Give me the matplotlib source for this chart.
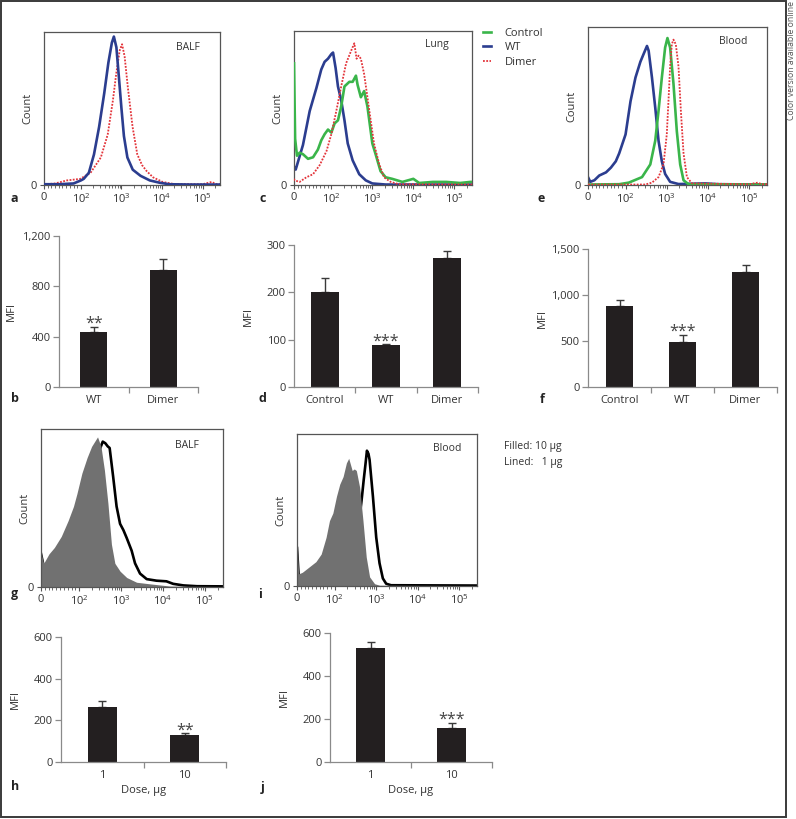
import numpy as np
import matplotlib
matplotlib.use('Agg')
import matplotlib.pyplot as plt
from matplotlib.patches import Rectangle
from matplotlib.ticker import FixedLocator, FuncFormatter

plt.rcParams['font.family'] = ['Open Sans', 'DejaVu Sans']
plt.rcParams['font.size'] = 8

# ---------------- data ----------------
# histogram curves: fluorescence intensity (x) vs normalised count (y, % of axis height)
a_wt_x = [0, 40, 80, 100, 117, 157, 210, 281, 376, 476, 580, 650, 750, 855, 1000, 1150, 1400, 1900, 2960, 5000, 8700, 15000, 50000, 270000]
a_wt_y = [0.5, 0.5, 1, 3, 4, 8, 20, 38, 60, 80, 93, 97, 90, 72, 50, 32, 18, 10, 6, 3, 1.5, 0.5, 0.3, 0.3]
a_dimer_x = [0, 30, 62, 98, 173, 310, 458, 613, 745, 906, 1036, 1197, 1435, 1880, 2460, 3220, 4210, 6040, 10400, 19000, 100000, 168000, 200000, 230000, 270000]
a_dimer_y = [0.5, 1, 3, 4, 8, 18, 33, 55, 73, 88, 92, 84, 64, 38, 20, 13, 9, 5, 2, 0.7, 0.5, 2, 1, 0.5, 0.5]

c_ctrl_x = [0, 3, 8, 15, 24, 37.5, 51, 64, 73, 82, 91, 100, 120, 145, 174, 209, 275, 331, 398, 437, 525, 631, 759, 1000, 1202, 1585, 2115, 3050, 5410, 10000, 13900, 30000, 64000, 138000, 245000, 270000]
c_ctrl_y = [79, 30, 19, 21, 20, 17, 18, 23, 29, 33, 36, 34, 40, 42, 51, 64, 67, 67, 71, 65, 57, 61, 51, 27, 20, 9, 5, 4, 2, 4, 1.3, 2, 2, 1.3, 2, 2]
c_wt_x = [0, 4.5, 24, 42, 60, 73, 82, 91, 100, 110, 127, 145, 174, 209, 251, 331, 479, 692, 1000, 2115, 270000]
c_wt_y = [12, 10, 26, 48, 63, 75, 80, 82, 85, 86, 76, 64, 55, 42, 27, 16, 7, 3, 1, 0.3, 0.3]
c_dimer_x = [0, 2, 15, 33, 51, 69, 87, 100, 132, 174, 229, 302, 363, 413, 462, 525, 631, 759, 912, 1098, 1454, 1926, 2804, 4480, 270000]
c_dimer_y = [4, 3, 2, 5, 7, 13, 22, 33, 48, 64, 79, 87, 92, 82, 84, 82, 72, 57, 42, 27, 14, 5, 2, 0.5, 0.3]

e_wt_x = [0, 6, 17, 30, 48, 61, 74, 83, 100, 132, 174, 229, 275, 331, 363, 437, 525, 631, 759, 912, 1206, 1925, 8600, 18300, 270000]
e_wt_y = [5, 2, 3, 6, 8, 11, 15, 20, 32, 53, 68, 78, 83, 88, 85, 68, 49, 28, 15, 7, 2, 0.6, 1, 0.5, 0.3]
e_ctrl_x = [0, 83, 120, 251, 398, 525, 631, 759, 912, 1038, 1206, 1455, 1753, 2115, 2550, 3370, 270000]
e_ctrl_y = [0.3, 0.5, 1.5, 5, 13, 28, 47, 68, 87, 93, 87, 64, 34, 13, 3, 0.5, 0.3]
e_dimer_x = [0, 300, 437, 631, 832, 1000, 1098, 1206, 1324, 1455, 1657, 1925, 2196, 2550, 3080, 4080, 100000, 161000, 200000, 270000]
e_dimer_y = [0.3, 0.3, 1.5, 5, 13, 32, 53, 75, 89, 92, 89, 75, 47, 20, 5, 1, 0.5, 1.5, 0.5, 0.5]

g_fill_x = [0, 7, 21, 35, 53, 71, 85, 94, 116, 155, 198, 274, 331, 400, 485, 588, 710, 945, 1362, 2344, 4844, 14540, 270000]
g_fill_y = [22, 15, 21, 25, 32, 42, 51, 59, 72, 82, 89, 95, 89, 74, 53, 27, 15, 10, 6, 3, 2, 0.6, 0.3]
g_line_x = [0, 10, 50, 100, 150, 200, 260, 330, 365, 420, 480, 533, 645, 780, 945, 1135, 1362, 1785, 2150, 2830, 4080, 7000, 12060, 17500, 30800, 65000, 270000]
g_line_y = [21, 10, 20, 35, 52, 68, 82, 89, 92, 91, 89, 88, 70, 51, 40, 36, 31, 23, 15, 8.5, 5, 4, 3.6, 2, 1, 0.5, 0.4]

i_fill_x = [0, 4.5, 14, 32, 50, 64, 77, 86, 95, 110, 132, 159, 191, 217, 263, 295, 331, 398, 479, 575, 692, 912, 1202, 270000]
i_fill_y = [29, 8, 9, 12.5, 16, 21, 32, 43, 48, 59, 67, 72, 81, 84, 76, 77, 76, 65, 43, 19, 6, 1.5, 0.5, 0.3]
i_line_x = [0, 5, 50, 100, 200, 300, 398, 450, 500, 550, 597, 650, 692, 832, 1000, 1202, 1445, 1738, 2280, 270000]
i_line_y = [25, 4, 6, 10, 25, 38, 45, 58, 70, 80, 89, 87, 83, 59, 32, 15, 5, 1.5, 0.5, 0.3]

hist_ticks = [0, 100, 1000, 10000, 100000]
hist_ticklabels = ['0', r'$\mathdefault{10^{2}}$', r'$\mathdefault{10^{3}}$',
                   r'$\mathdefault{10^{4}}$', r'$\mathdefault{10^{5}}$']

# bar charts
b_cats = ['WT', 'Dimer']
b_vals = [440, 930]
b_errs = [37, 90]
d_cats = ['Control', 'WT', 'Dimer']
d_vals = [200, 88, 272]
d_errs = [30, 2, 16]
f_cats = ['Control', 'WT', 'Dimer']
f_vals = [880, 485, 1250]
f_errs = [65, 85, 80]
h_cats = ['1', '10']
h_vals = [264, 130]
h_errs = [28, 8]
j_cats = ['1', '10']
j_vals = [530, 160]
j_errs = [28, 22]

# ---------------- figure ----------------
W, H = 796, 819
fig = plt.figure(figsize=(W / 100, H / 100), dpi=100)


def box(l, t, r, b):
    return [l / W, 1 - b / H, (r - l) / W, (b - t) / H]


def ftext(x, y, s, **kw):
    return fig.text(x / W, 1 - y / H, s, **kw)


BLUE = '#2b3d8f'
GREEN = '#3ab54a'
RED = '#e3343a'
TXT = '#333333'
SP = '#555555'


def hist_axes(rect):
    ax = fig.add_axes(box(*rect))
    ax.set_xscale('symlog', linthresh=100, linscale=0.82)
    ax.set_xlim(0, 2.7e5)
    ax.set_ylim(0, 100)
    ax.xaxis.set_major_locator(FixedLocator(hist_ticks))
    ax.set_xticklabels(hist_ticklabels)
    minors = [10, 20, 30, 40, 50, 60, 70, 80, 90] + \
             [k * 10 ** e for e in (2, 3, 4) for k in range(2, 10)] + [200000]
    ax.xaxis.set_minor_locator(FixedLocator(minors))
    ax.set_yticks([0])
    ax.set_yticklabels(['0'])
    ax.tick_params(axis='both', which='major', length=3, width=0.8, color=SP,
                   labelcolor=TXT, labelsize=8, pad=2)
    ax.tick_params(axis='x', which='minor', length=2, width=0.6, color=SP)
    ax.tick_params(axis='y', which='minor', length=0)
    for s in ax.spines.values():
        s.set_color(SP)
        s.set_linewidth(0.9)
    w = rect[2] - rect[0]
    ax.set_ylabel('Count', color=TXT, fontsize=8)
    ax.yaxis.set_label_coords(-11 / w, 0.5)
    return ax


# --- a ---
ax = hist_axes((44, 32, 220, 185))
ax.plot(a_dimer_x, a_dimer_y, color=RED, lw=1.3, ls=(0, (1, 0.8)), zorder=2)
ax.plot(a_wt_x, a_wt_y, color=BLUE, lw=1.9, zorder=3)
ftext(187.5, 47, 'BALF', ha='center', va='center', color=TXT, fontsize=7.5)

# --- c ---
ax = hist_axes((294, 31, 472, 185))
l_wt, = ax.plot(c_wt_x, c_wt_y, color=BLUE, lw=1.9, zorder=2, label='WT')
l_ctrl, = ax.plot(c_ctrl_x, c_ctrl_y, color=GREEN, lw=1.9, zorder=3, label='Control')
l_dim, = ax.plot(c_dimer_x, c_dimer_y, color=RED, lw=1.3, ls=(0, (1, 0.8)), zorder=4, label='Dimer')
ftext(437, 45, 'Lung', ha='center', va='center', color=TXT, fontsize=7.5)
fig.legend(handles=[l_ctrl, l_wt, l_dim], loc='upper left',
           bbox_to_anchor=(483 / W, 1 - 28 / H), frameon=False, fontsize=8,
           handlelength=0.75, handletextpad=1.2, labelspacing=0.3,
           borderpad=0, borderaxespad=0, labelcolor=TXT)

# --- e ---
ax = hist_axes((588, 27, 767, 185))
ax.plot(e_wt_x, e_wt_y, color=BLUE, lw=1.9, zorder=2)
ax.plot(e_ctrl_x, e_ctrl_y, color=GREEN, lw=1.9, zorder=3)
ax.plot(e_dimer_x, e_dimer_y, color=RED, lw=1.3, ls=(0, (1, 0.8)), zorder=4)
ftext(733, 41.5, 'Blood', ha='center', va='center', color=TXT, fontsize=7.5)

# --- g ---
ax = hist_axes((41, 429, 223, 587))
ax.plot(g_line_x, g_line_y, color='black', lw=1.9, zorder=2)
ax.fill_between(g_fill_x, g_fill_y, 0, color='#717171', lw=0, zorder=2.3)
ftext(187, 445.5, 'BALF', ha='center', va='center', color=TXT, fontsize=7.5)

# --- i ---
ax = hist_axes((297, 434, 477, 586))
ax.plot(i_line_x, i_line_y, color='black', lw=1.9, zorder=2)
ax.fill_between(i_fill_x, i_fill_y, 0, color='#717171', lw=0, zorder=2.3)
ftext(447.5, 448, 'Blood', ha='center', va='center', color=TXT, fontsize=7.5)

ftext(504, 447, 'Filled: 10 μg', ha='left', va='center', color=TXT, fontsize=7.5)
ftext(504, 463, 'Lined:   1 μg', ha='left', va='center', color=TXT, fontsize=7.5)

BAR = '#231f20'
AX = '#8a8a8a'


def bar_axes(rect, cats, vals, errs, ymax, ystep, star_i, star, width, lab_dist=40, xlabel=None):
    ax = fig.add_axes(box(*rect))
    n = len(cats)
    x = np.arange(n) + 0.5
    ax.errorbar(x, vals, yerr=[np.zeros(n), errs], fmt='none', ecolor='#3a3a3a',
                elinewidth=1.0, capsize=3, capthick=1.0, zorder=1)
    ax.bar(x, vals, width=width, color=BAR, zorder=2)
    ax.set_xlim(0, n)
    ax.set_ylim(0, ymax)
    ax.set_xticks(np.arange(1, n + 1))
    ax.set_xticklabels([''] * n)
    ax.set_xticks(x, minor=True)
    ax.set_xticklabels(cats, minor=True)
    ax.tick_params(axis='x', which='minor', length=0, pad=6, labelcolor=TXT, labelsize=8)
    ax.tick_params(axis='x', which='major', length=4, width=0.9, color=AX)
    yt = np.arange(0, ymax + 1, ystep)
    ax.set_yticks(yt)
    ax.yaxis.set_major_formatter(FuncFormatter(lambda v, p: f'{v:,.0f}'))
    ax.tick_params(axis='y', length=4, width=0.9, color=AX, labelcolor=TXT, labelsize=8, pad=2)
    for s in ('top', 'right'):
        ax.spines[s].set_visible(False)
    for s in ('left', 'bottom'):
        ax.spines[s].set_color(AX)
        ax.spines[s].set_linewidth(0.9)
    ax.set_ylabel('MFI', color=TXT, fontsize=8)
    w = rect[2] - rect[0]
    ax.yaxis.set_label_coords(-lab_dist / w, 0.5)
    ax.annotate(star, xy=(x[star_i], vals[star_i] + errs[star_i]), xytext=(0, -0.8),
                textcoords='offset points', ha='center', va='baseline',
                fontsize=11.5, color='#444444')
    if xlabel:
        ax.set_xlabel(xlabel, color=TXT, fontsize=8, labelpad=3)
    return ax


bar_axes((59, 236, 198, 387), b_cats, b_vals, b_errs, 1200, 400, 0, '**', 0.39, lab_dist=42)
bar_axes((294, 245, 478, 387), d_cats, d_vals, d_errs, 300, 100, 1, '***', 0.46)
bar_axes((588, 249, 777, 387), f_cats, f_vals, f_errs, 1500, 500, 1, '***', 0.43)
bar_axes((61, 637, 226, 762), h_cats, h_vals, h_errs, 600, 200, 1, '**', 0.35, xlabel='Dose, μg')
bar_axes((330, 633, 492, 762), j_cats, j_vals, j_errs, 600, 200, 1, '***', 0.36, xlabel='Dose, μg')

# panel letters
for lt, (px, py) in {'a': (14, 198), 'c': (263, 198), 'e': (541, 198),
                     'b': (14.5, 398), 'd': (262, 398), 'f': (542, 399),
                     'g': (14.5, 594), 'i': (260, 594),
                     'h': (15, 786), 'j': (263, 787)}.items():
    ftext(px, py, lt, ha='center', va='center', fontsize=9, fontweight='bold', color='#222222')

# outer frame and side note
fig.add_artist(Rectangle((1 / W, 1 - 817 / H), 785 / W, 816 / H, transform=fig.transFigure,
                         fill=False, edgecolor='#3a3a3a', lw=1.4))
ftext(791, 1, 'Color version available online', rotation=90, ha='center', va='top',
      fontsize=6.2, color='#555555')

fig.savefig('out.png', dpi=100)
